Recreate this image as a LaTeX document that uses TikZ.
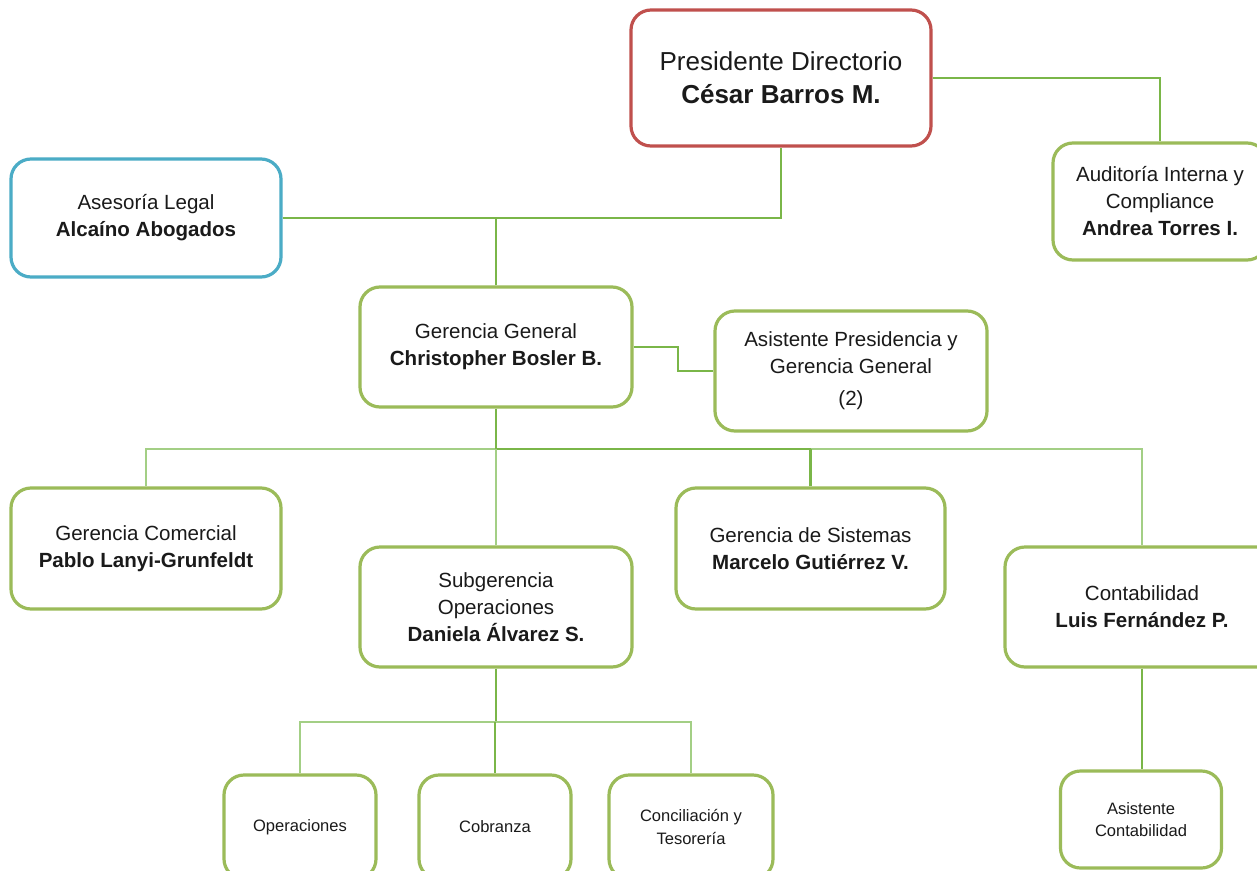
\documentclass[tikz,border=0pt]{standalone}
\usepackage{fontspec}
\setmainfont{Liberation Sans}
\definecolor{boxgreen}{HTML}{9BBB59}
\definecolor{linegreen}{HTML}{7AB648}
\definecolor{palegreen}{HTML}{A3CF85}
\definecolor{boxred}{HTML}{C0504D}
\definecolor{boxblue}{HTML}{4BACC6}
\definecolor{txt}{HTML}{1A1A1A}
\begin{document}
\begin{tikzpicture}[x=0.75pt,y=-0.75pt,
  orgbox/.style={draw=boxgreen,line width=2.4pt,rounded corners=15pt,fill=white,
    inner sep=0pt,align=center,text=txt,
    font=\fontsize{15.4}{20.25}\selectfont},
  bigbox/.style={orgbox,draw=boxred,font=\fontsize{19.5}{24.75}\selectfont},
  smallbox/.style={orgbox,font=\fontsize{12.4}{17}\selectfont},
  conn/.style={draw=linegreen,line width=1.6pt},
  paleconn/.style={draw=palegreen,line width=1.6pt}]
\useasboundingbox (0,0) rectangle (1257,871);
\fill[white] (0,0) rectangle (1257,871);
\clip (0,0) rectangle (1257,871);

% nodes
\node[bigbox,minimum width=225pt,minimum height=102pt] (pres) at (781,78)
  {Presidente Directorio\\\textbf{César Barros M.}};
\node[orgbox,minimum width=160.5pt,minimum height=87.75pt] (aud) at (1160,201.5)
  {Auditoría Interna y\\Compliance\\\textbf{Andrea Torres I.}};
\node[orgbox,draw=boxblue,minimum width=202.5pt,minimum height=88.5pt] (ases) at (146,218)
  {Asesoría Legal\\\textbf{Alcaíno Abogados}};
\node[orgbox,minimum width=204pt,minimum height=90pt] (gg) at (496,347)
  {Gerencia General\\\textbf{Christopher Bosler B.}};
\node[orgbox,minimum width=204pt,minimum height=90pt] (asisp) at (851,371)
  {Asistente Presidencia y\\Gerencia General\\[4pt](2)};
\node[orgbox,minimum width=202.5pt,minimum height=90.75pt] (gcom) at (146,548.5)
  {Gerencia Comercial\\\textbf{Pablo Lanyi-Grunfeldt}};
\node[orgbox,minimum width=204pt,minimum height=90pt] (sub) at (496,607)
  {Subgerencia\\Operaciones\\\textbf{Daniela Álvarez S.}};
\node[orgbox,minimum width=201.75pt,minimum height=90.75pt] (gsis) at (810.5,548.5)
  {Gerencia de Sistemas\\\textbf{Marcelo Gutiérrez V.}};
\node[orgbox,minimum width=205.5pt,minimum height=90pt] (cont) at (1142,607)
  {Contabilidad\\\textbf{Luis Fernández P.}};
\node[smallbox,minimum width=114pt,minimum height=78pt] (oper) at (300,827)
  {Operaciones};
\node[smallbox,minimum width=114pt,minimum height=78pt] (cobr) at (495,827)
  {Cobranza};
\node[smallbox,minimum width=123pt,minimum height=78pt] (conc) at (691,827)
  {Conciliación y\\Tesorería};
\node[smallbox,minimum width=120.75pt,minimum height=72.75pt] (asisc) at (1141,819.5)
  {Asistente\\Contabilidad};

% helper coordinates
\coordinate (bus) at (497,449);
\coordinate (bus2) at (497,722);

% connectors
\draw[conn] (pres.east) -| (aud.north);
\draw[conn] (ases.east) -| (pres.south);
\draw[conn] (gg.north) -- (gg.north |- ases.east);
\draw[conn] (gg.east) -- ++(44,0) |- (asisp.west);
\draw[paleconn] (gcom.north) |- (bus);
\draw[paleconn] (bus) -| (cont.north);
\draw[conn] (bus) -- (gsis.north |- bus);
\draw[conn] (gg.south) -- (gg.south |- bus);
\draw[paleconn] (sub.north) -- (sub.north |- bus);
\draw[conn] (gsis.north) -- (gsis.north |- bus);
\draw[conn] (sub.south) -- (sub.south |- bus2);
\draw[paleconn] (oper.north) |- (bus2) -| (conc.north);
\draw[conn] (cobr.north) -- (cobr.north |- bus2);
\draw[conn] (cont.south) -- (cont.south |- asisc.north);
\end{tikzpicture}
\end{document}
